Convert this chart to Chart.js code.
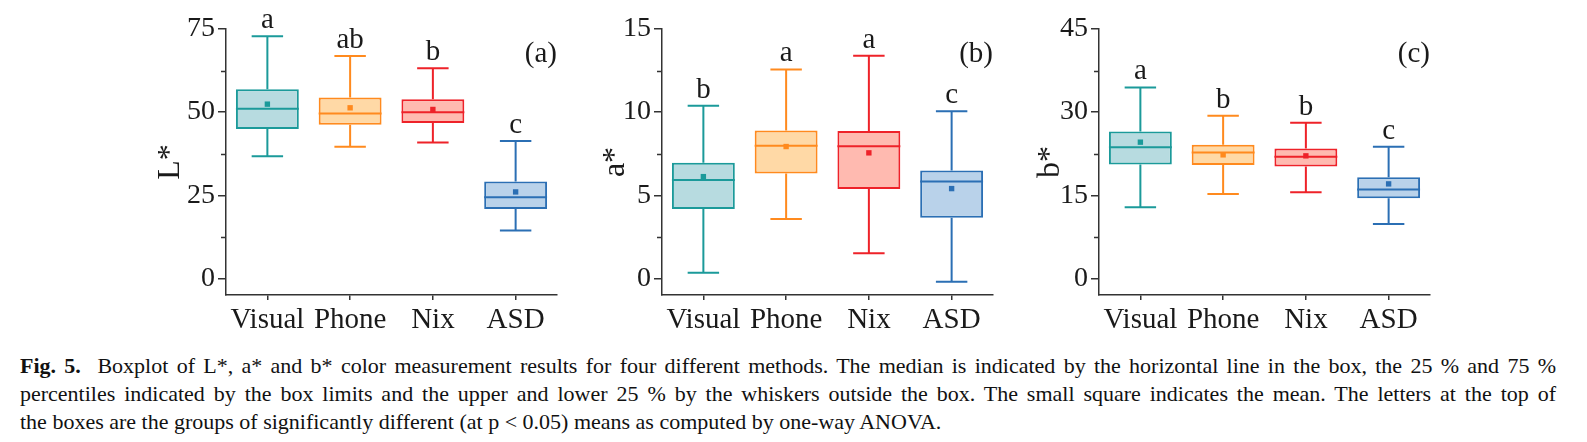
<!DOCTYPE html>
<html>
<head>
<meta charset="utf-8">
<script src="https://cdn.jsdelivr.net/npm/chart.js@4/dist/chart.umd.min.js"></script>
<style>
  body { margin: 0; background: #fff; width: 1587px; height: 442px; position: relative; overflow: hidden; }
  canvas { position: absolute; top: 0; }
  #cap { position: absolute; left: 20px; top: 352px; width: 1536px; font-family: 'Liberation Serif', 'Times New Roman', serif; font-size: 22px; line-height: 27.8px; color: #111; transform-origin: 0 0; }
  #cap div { white-space: nowrap; }
  #cap .j { text-align: justify; text-align-last: justify; white-space: normal; }
</style>
</head>
<body>
<canvas id="chart-l" width="426" height="340" style="left:146px"></canvas>
<canvas id="chart-a" width="426" height="340" style="left:582px"></canvas>
<canvas id="chart-b" width="426" height="340" style="left:1019px"></canvas>
<div id="cap">
  <div class="j" id="first"><b>Fig. 5.</b>&nbsp; Boxplot of L*, a* and b* color measurement results for four different methods. The median is indicated by the horizontal line in the box, the 25 % and 75 %</div>
  <div class="j">percentiles indicated by the box limits and the upper and lower 25 % by the whiskers outside the box. The small square indicates the mean. The letters at the top of</div>
  <div>the boxes are the groups of significantly different (at p &lt; 0.05) means as computed by one-way ANOVA.</div>
</div>
<script>
/* Fig. 5 — boxplots of L*, a*, b* for four colour measurement methods */

const methods = ['Visual', 'Phone', 'Nix', 'ASD'];

const LINE_COLORS = ['#1b9a9a', '#ff8a1e', '#ee2229', '#2b6fb4'];
const FILL_COLORS = ['#b7dbe0', '#ffd9a6', '#ffbab0', '#b9d2ea'];

// L*
const lMin  = [36.7, 39.6, 40.9, 14.4];
const lQ1   = [44.9, 46.2, 46.7, 20.9];
const lMed  = [51.0, 49.6, 50.0, 24.4];
const lQ3   = [56.9, 54.4, 53.9, 29.1];
const lMax  = [72.8, 66.9, 63.2, 41.3];
const lMean = [52.4, 51.3, 50.8, 26.0];
const lGroups = ['a', 'ab', 'b', 'c'];
const lTicks = [0, 25, 50, 75];

// a*
const aMin  = [0.34, 3.57, 1.51, -0.2];
const aQ1   = [4.18, 6.31, 5.38, 3.65];
const aMed  = [5.92, 7.97, 7.95, 5.82];
const aQ3   = [6.95, 8.90, 8.86, 6.49];
const aMax  = [10.38, 12.57, 13.39, 10.06];
const aMean = [6.12, 7.93, 7.55, 5.40];
const aGroups = ['b', 'a', 'a', 'c'];
const aTicks = [0, 5, 10, 15];

// b*
const bMin  = [12.83, 15.24, 15.54, 9.82];
const bQ1   = [20.54, 20.48, 20.18, 14.46];
const bMed  = [23.67, 22.71, 21.93, 16.02];
const bQ3   = [26.5, 24.1, 23.43, 18.25];
const bMax  = [34.46, 29.34, 28.07, 23.73];
const bMean = [24.58, 22.29, 22.11, 17.05];
const bGroups = ['a', 'b', 'b', 'c'];
const bTicks = [0, 15, 30, 45];

const FONT = "'Liberation Serif', 'Times New Roman', serif";
const TEXT = '#1a1a1a';
const AXIS = '#333';

function boxPlugin(p) {
    return {
        id: 'box-' + p.tag,
        beforeDatasetsDraw(chart) {
            const { ctx, scales: { x, y } } = chart;
            const bars = chart.getDatasetMeta(0).data;
            ctx.save();
            ctx.lineWidth = 2;
            p.min.forEach((lo, i) => {
                const cx = x.getPixelForValue(i);
                const cap = bars[i].width / 4;
                const yLo = y.getPixelForValue(lo), yHi = y.getPixelForValue(p.max[i]);
                ctx.strokeStyle = LINE_COLORS[i];
                ctx.beginPath();
                ctx.moveTo(cx, yLo); ctx.lineTo(cx, y.getPixelForValue(p.q1[i]));
                ctx.moveTo(cx, y.getPixelForValue(p.q3[i])); ctx.lineTo(cx, yHi);
                ctx.moveTo(cx - cap, yLo); ctx.lineTo(cx + cap, yLo);
                ctx.moveTo(cx - cap, yHi); ctx.lineTo(cx + cap, yHi);
                ctx.stroke();
            });
            ctx.restore();
        },
        afterDatasetDraw(chart, args) {
            if (args.index !== 0) return;
            const { ctx, scales: { x, y } } = chart;
            const bars = chart.getDatasetMeta(0).data;
            ctx.save();
            ctx.lineWidth = 2;
            p.med.forEach((m, i) => {
                const cx = x.getPixelForValue(i), hw = bars[i].width / 2;
                const py = y.getPixelForValue(m);
                ctx.strokeStyle = LINE_COLORS[i];
                ctx.beginPath();
                ctx.moveTo(cx - hw, py); ctx.lineTo(cx + hw, py);
                ctx.stroke();
            });
            ctx.restore();
        },
        afterDraw(chart) {
            const { ctx, chartArea, scales: { x, y } } = chart;
            ctx.save();
            // minor y ticks, shorter than the major ones
            ctx.strokeStyle = AXIS;
            ctx.lineWidth = 1.5;
            ctx.beginPath();
            y.ticks.filter(t => !p.ticks.includes(t.value)).forEach(t => {
                const py = Math.round(y.getPixelForValue(t.value)) + 0.5;
                ctx.moveTo(chartArea.left - 5, py); ctx.lineTo(chartArea.left, py);
            });
            ctx.stroke();
            // significance letters above the whiskers
            ctx.fillStyle = TEXT;
            ctx.textBaseline = 'alphabetic';
            ctx.textAlign = 'center';
            ctx.font = '29px ' + FONT;
            p.groups.forEach((g, i) => {
                ctx.fillText(g, x.getPixelForValue(i), y.getPixelForValue(p.max[i]) - 8);
            });
            ctx.textAlign = 'right';
            ctx.font = '29px ' + FONT;
            ctx.fillText('(' + p.tag + ')', chartArea.right, chartArea.top + 33);
            ctx.restore();
        },
    };
}

function makePanel(id, p) {
    const step = p.ticks[1] - p.ticks[0];
    new Chart(document.getElementById(id), {
        type: 'bar',
        data: {
            labels: methods,
            datasets: [{
                type: 'bar',
                order: 1,
                data: p.q1.map((v, i) => [v, p.q3[i]]),
                backgroundColor: FILL_COLORS,
                borderColor: LINE_COLORS,
                borderWidth: 2,
                borderSkipped: false,
                barPercentage: 0.76,
                categoryPercentage: 1,
            }, {
                type: 'line',
                order: 0,
                data: p.mean,
                showLine: false,
                pointStyle: 'rect',
                pointRadius: 3.8,
                pointBackgroundColor: LINE_COLORS,
                pointBorderColor: LINE_COLORS,
                pointBorderWidth: 0,
            }],
        },
        options: {
            responsive: false,
            animation: false,
            devicePixelRatio: 1,
            layout: { padding: { left: 0, top: 29, right: 15, bottom: 0 } },
            plugins: { legend: { display: false }, tooltip: { enabled: false } },
            scales: {
                x: {
                    grid: { display: true, drawOnChartArea: false, offset: false, tickLength: 5, color: AXIS, lineWidth: 1.5 },
                    border: { display: true, color: AXIS, width: 1.5 },
                    ticks: { color: TEXT, font: { family: FONT, size: 29 }, padding: 3, maxRotation: 0, autoSkip: false },
                    afterFit: s => { s.height = 45; },
                },
                y: {
                    min: p.yMin,
                    max: p.ticks[p.ticks.length - 1],
                    afterBuildTicks: s => {
                        const t = [];
                        p.ticks.forEach((v, i) => { t.push({ value: v }); if (i < p.ticks.length - 1) t.push({ value: v + step / 2 }); });
                        s.ticks = t;
                    },
                    grid: {
                        display: true, drawOnChartArea: false, tickLength: 8, lineWidth: 1.5,
                        color: c => c.tick && !p.ticks.includes(c.tick.value) ? 'rgba(0,0,0,0)' : AXIS,
                    },
                    border: { display: true, color: AXIS, width: 1.5 },
                    ticks: {
                        color: TEXT, font: { family: FONT, size: 28 }, padding: 3,
                        callback: v => p.ticks.includes(v) ? String(v) : '',
                    },
                    title: { display: true, text: p.title, color: TEXT, font: { family: FONT, size: 32 }, padding: p.titlePad },
                    afterFit: s => { s.width = 80; },
                },
            },
        },
        plugins: [boxPlugin(p)],
    });
}

makePanel('chart-l', { tag: 'a', title: 'L*', titlePad: 5, yMin: -5, ticks: lTicks,
    min: lMin, q1: lQ1, med: lMed, q3: lQ3, max: lMax, mean: lMean, groups: lGroups });
makePanel('chart-a', { tag: 'b', title: 'a*', titlePad: 14, yMin: -1, ticks: aTicks,
    min: aMin, q1: aQ1, med: aMed, q3: aQ3, max: aMax, mean: aMean, groups: aGroups });
makePanel('chart-b', { tag: 'c', title: 'b*', titlePad: 12, yMin: -3, ticks: bTicks,
    min: bMin, q1: bQ1, med: bMed, q3: bQ3, max: bMax, mean: bMean, groups: bGroups });

// condense the caption horizontally so its first line just fits the figure width
const cap = document.getElementById('cap');
const first = document.getElementById('first');
const probe = document.createElement('span');
probe.innerHTML = first.innerHTML;
probe.style.whiteSpace = 'nowrap';
cap.appendChild(probe);
const natural = probe.getBoundingClientRect().width;
probe.remove();
const sx = Math.min(1, 1520 / natural);
cap.style.width = (1536 / sx) + 'px';
cap.style.transform = 'scaleX(' + sx.toFixed(4) + ')';
</script>
</body>
</html>
